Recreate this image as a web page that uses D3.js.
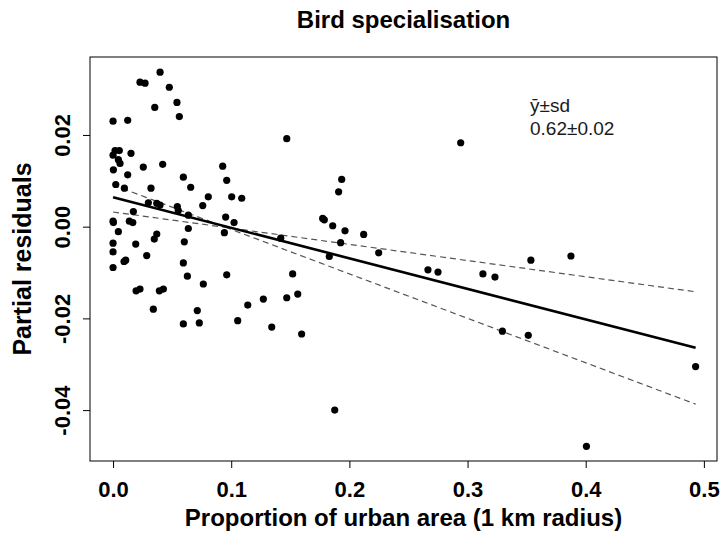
<!DOCTYPE html>
<html>
<head>
<meta charset="utf-8">
<script src="https://cdn.jsdelivr.net/npm/d3@7"></script>
<style>
  body { margin: 0; background: #fff; }
  text { font-family: "Liberation Sans", Arial, sans-serif; }
</style>
</head>
<body>
<svg width="720" height="545"></svg>
<script>
// urban proportion (x) and partial residuals (y)
const urban = [
  0.0398, 0.0228, 0.0271, 0.0476, 0.0541, 0.0353, 0.0561, 0.0000, 0.0124, 0.0000,
  0.0017, 0.0053, 0.0045, 0.0059, 0.0152, 0.0003, 0.0124, 0.0256, 0.0420, 0.0928,
  0.0962, 0.0595, 0.0657, 0.0023, 0.0096, 0.0321, 0.0806, 0.1004, 0.1089, 0.0299,
  0.0370, 0.0398, 0.0544, 0.0552, 0.0759, 0.0172, 0.0637, 0.0953, 0.0000, 0.0003,
  0.0138, 0.0167, 0.1024, 0.0045, 0.0637, 0.0942, 0.0370, 0.0349, 0.0603, 0.0192,
  0.0000, 0.0000, 0.0285, 0.0093, 0.0107, 0.0000, 0.0595, 0.0629, 0.0962, 0.0764,
  0.0195, 0.0228, 0.0392, 0.0426, 0.0341, 0.0713, 0.1140, 0.1272, 0.0595, 0.0730,
  0.1055, 0.1343, 0.1470, 0.2942, 0.1935, 0.1909, 0.1774, 0.1788, 0.1859, 0.1963,
  0.2121, 0.1926, 0.1419, 0.2248, 0.1830, 0.1520, 0.2665, 0.2750, 0.1470, 0.1563,
  0.1596, 0.1876, 0.3536, 0.3875, 0.3130, 0.3232, 0.3295, 0.3514, 0.4930, 0.4006
];
const resid = [
  0.0337, 0.0315, 0.0313, 0.0304, 0.0271, 0.0260, 0.0240, 0.0230, 0.0232, 0.0156,
  0.0166, 0.0166, 0.0146, 0.0138, 0.0160, 0.0124, 0.0113, 0.0130, 0.0136, 0.0132,
  0.0101, 0.0108, 0.0086, 0.0092, 0.0084, 0.0084, 0.0065, 0.0065, 0.0062, 0.0052,
  0.0051, 0.0047, 0.0044, 0.0035, 0.0046, 0.0033, 0.0025, 0.0021, 0.0012, 0.0009,
  0.0012, 0.0009, 0.0009, -0.0011, -0.0004, -0.0013, -0.0016, -0.0027, -0.0033, -0.0038,
  -0.0036, -0.0055, -0.0063, -0.0076, -0.0073, -0.0089, -0.0079, -0.0108, -0.0105, -0.0125,
  -0.0140, -0.0136, -0.0140, -0.0136, -0.0180, -0.0183, -0.0171, -0.0158, -0.0212, -0.0210,
  -0.0205, -0.0219, 0.0192, 0.0183, 0.0103, 0.0076, 0.0018, 0.0015, 0.0002, -0.0009,
  -0.0017, -0.0035, -0.0025, -0.0057, -0.0065, -0.0103, -0.0094, -0.0099, -0.0155, -0.0147,
  -0.0234, -0.0400, -0.0073, -0.0064, -0.0103, -0.0110, -0.0228, -0.0237, -0.0305, -0.0479
];

// fitted line and the two dashed lines (ends at x = 0 and x = max)
const lineX = [0, 0.493];
const fitY = [0.0064, -0.0264];
const dashSteepY = [0.0091, -0.0387];
const dashFlatY = [0.0032, -0.0142];

const xTicks = [0, 0.1, 0.2, 0.3, 0.4, 0.5];
const yTicks = [-0.04, -0.02, 0, 0.02];

const annoLines = ["\u0233\u00b1sd", "0.62\u00b10.02"];

const box = { left: 90, right: 717, top: 57, bottom: 461 };

const svg = d3.select("svg");
svg.append("rect").attr("width", 720).attr("height", 545).attr("fill", "#fff");

const x = d3.scaleLinear().domain([-0.0195, 0.5111]).range([box.left, box.right]);
const y = d3.scaleLinear().domain([-0.0511, 0.0370]).range([box.bottom, box.top]);

// axes
const gx = svg.append("g")
  .attr("transform", `translate(0,${box.bottom})`)
  .call(d3.axisBottom(x).tickValues(xTicks).tickFormat(d3.format(".1f")).tickSize(7).tickPadding(13))
  .call(g => g.select(".domain").remove());
gx.selectAll(".tick line").attr("stroke", "#000");
gx.selectAll(".tick text")
  .attr("font-size", "22px")
  .attr("font-weight", "bold")
  .attr("fill", "#000")
  .style("font-family", "'Liberation Sans', Arial, sans-serif");

const gy = svg.append("g")
  .attr("transform", `translate(${box.left},0)`)
  .call(d3.axisLeft(y).tickValues(yTicks).tickFormat(d3.format(".2f")).tickSize(7))
  .call(g => g.select(".domain").remove());
gy.selectAll(".tick line").attr("stroke", "#000");
gy.selectAll(".tick text").remove();
gy.selectAll(".tick").append("text")
  .attr("transform", "translate(-28,0) rotate(-90)")
  .attr("text-anchor", "middle")
  .attr("dy", "0.35em")
  .attr("font-size", "22px")
  .attr("font-weight", "bold")
  .attr("fill", "#000")
  .text(d => d3.format(".2f")(d).replace("\u2212", "-"));

// plot box
svg.append("rect")
  .attr("x", box.left)
  .attr("y", box.top)
  .attr("width", box.right - box.left)
  .attr("height", box.bottom - box.top)
  .attr("fill", "none")
  .attr("stroke", "#000")
  .attr("stroke-width", 1);

// lines
const line = d3.line().x(d => x(d[0])).y(d => y(d[1]));

[dashSteepY, dashFlatY].forEach(ys => {
  svg.append("path")
    .datum(lineX.map((v, i) => [v, ys[i]]))
    .attr("d", line)
    .attr("fill", "none")
    .attr("stroke", "#555")
    .attr("stroke-width", 1.2)
    .attr("stroke-dasharray", "6,4");
});

svg.append("path")
  .datum(lineX.map((v, i) => [v, fitY[i]]))
  .attr("d", line)
  .attr("fill", "none")
  .attr("stroke", "#000")
  .attr("stroke-width", 2.6);

// points
svg.append("g").selectAll("circle")
  .data(urban.map((v, i) => [v, resid[i]]))
  .enter().append("circle")
  .attr("cx", d => x(d[0]))
  .attr("cy", d => y(d[1]))
  .attr("r", 3.6)
  .attr("fill", "#000");

// annotation
svg.append("g").selectAll("text")
  .data(annoLines)
  .enter().append("text")
  .attr("x", 530)
  .attr("y", (d, i) => 112 + i * 23)
  .attr("font-size", "19px")
  .attr("fill", "#1a1a1a")
  .text(d => d);

// titles
svg.append("text")
  .attr("x", (box.left + box.right) / 2)
  .attr("y", 28)
  .attr("text-anchor", "middle")
  .attr("font-size", "24px")
  .attr("font-weight", "bold")
  .text("Bird specialisation");

svg.append("text")
  .attr("x", (box.left + box.right) / 2)
  .attr("y", 526)
  .attr("text-anchor", "middle")
  .attr("font-size", "24px")
  .attr("font-weight", "bold")
  .text("Proportion of urban area (1 km radius)");

svg.append("text")
  .attr("transform", `translate(31,${(box.top + box.bottom) / 2}) rotate(-90)`)
  .attr("text-anchor", "middle")
  .attr("font-size", "25px")
  .attr("font-weight", "bold")
  .text("Partial residuals");
</script>
</body>
</html>
